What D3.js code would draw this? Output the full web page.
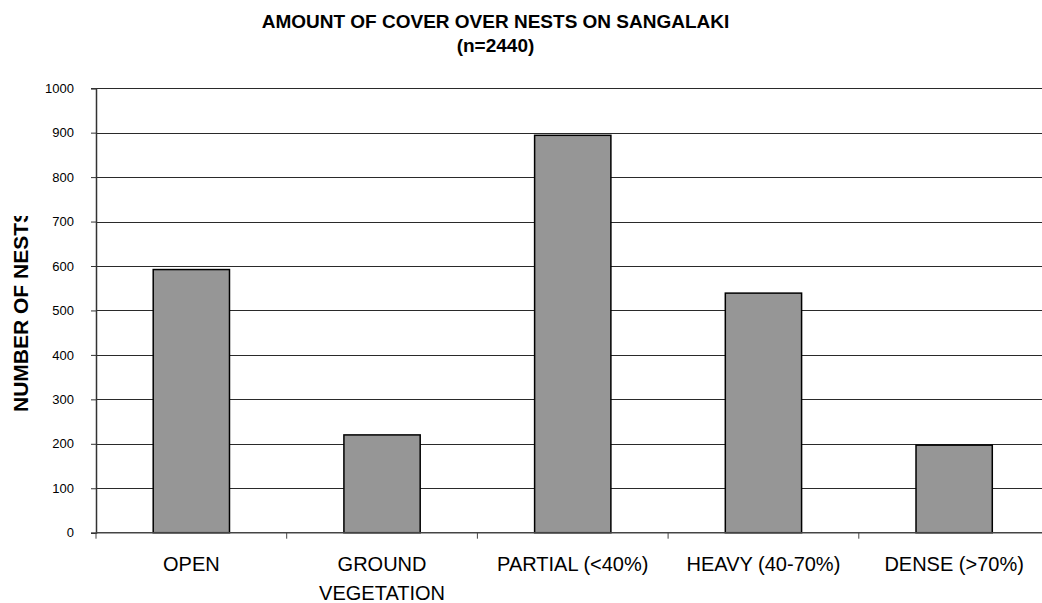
<!DOCTYPE html>
<html>
<head>
<meta charset="utf-8">
<script src="https://cdn.jsdelivr.net/npm/d3@7"></script>
<style>
  body { margin: 0; background: #fff; }
  svg { display: block; font-family: "Liberation Sans", Arial, sans-serif; }
</style>
</head>
<body>
<svg id="chart" width="1042" height="603"></svg>
<script>
// chart data
const categories = ["OPEN", "GROUND VEGETATION", "PARTIAL (<40%)", "HEAVY (40-70%)", "DENSE (>70%)"];
const categoryLines = [["OPEN"], ["GROUND", "VEGETATION"], ["PARTIAL (<40%)"], ["HEAVY (40-70%)"], ["DENSE (>70%)"]];
const nests = [592, 220, 894, 539, 197];
const yTicks = [0, 100, 200, 300, 400, 500, 600, 700, 800, 900, 1000];
const titleLines = ["AMOUNT OF COVER OVER NESTS ON SANGALAKI", "(n=2440)"];
const yLabel = "NUMBER OF NESTS";

const svg = d3.select("#chart");

// plot area (right side runs off the picture, like the original)
const plotLeft = 96, plotRight = 1049.5, plotTop = 88.2, plotBottom = 532.7;

const x = d3.scaleBand()
  .domain(categories)
  .range([plotLeft, plotRight])
  .paddingInner(0.6)
  .paddingOuter(0.3);

const y = d3.scaleLinear()
  .domain([0, 1000])
  .range([plotBottom, plotTop]);

// gridlines
svg.append("g")
  .selectAll("line")
  .data(yTicks.filter(d => d > 0))
  .join("line")
  .attr("x1", plotLeft).attr("x2", 1042)
  .attr("y1", d => Math.round(y(d)) + 0.5)
  .attr("y2", d => Math.round(y(d)) + 0.5)
  .attr("stroke", "#2a2a2a")
  .attr("stroke-width", 1);

// bars
svg.append("g")
  .selectAll("rect")
  .data(nests)
  .join("rect")
  .attr("x", (d, i) => x(categories[i]))
  .attr("y", d => y(d))
  .attr("width", x.bandwidth())
  .attr("height", d => y(0) - y(d))
  .attr("fill", "#969696")
  .attr("stroke", "#000")
  .attr("stroke-width", 1.5);

// y axis
const yAxis = svg.append("g")
  .attr("transform", `translate(${plotLeft},0)`)
  .call(d3.axisLeft(y).tickValues(yTicks).tickFormat(d3.format("d")).tickSize(5).tickPadding(17));
yAxis.select(".domain").attr("stroke", "#333").attr("stroke-width", 1.5);
yAxis.selectAll(".tick line").attr("stroke", "#333");
yAxis.selectAll(".tick text")
  .attr("fill", "#000")
  .style("font-family", "Liberation Sans, Arial, sans-serif")
  .style("font-size", "13px");

// x axis: ticks sit between the categories
const step = x.step();
const boundaries = d3.range(categories.length + 1).map(i => plotLeft + i * step);
svg.append("line")
  .attr("x1", plotLeft).attr("x2", 1042)
  .attr("y1", plotBottom).attr("y2", plotBottom)
  .attr("stroke", "#444").attr("stroke-width", 1.5);
svg.append("g")
  .selectAll("line")
  .data(boundaries.filter(b => b < 1042))
  .join("line")
  .attr("x1", d => d).attr("x2", d => d)
  .attr("y1", plotBottom).attr("y2", plotBottom + 6)
  .attr("stroke", "#444");

svg.append("g")
  .selectAll("text")
  .data(categories)
  .join("text")
  .attr("x", d => x(d) + x.bandwidth() / 2)
  .attr("y", 571)
  .attr("text-anchor", "middle")
  .style("font-size", "20px")
  .selectAll("tspan")
  .data((d, i) => categoryLines[i])
  .join("tspan")
  .attr("x", function () { return d3.select(this.parentNode).attr("x"); })
  .attr("dy", (d, i) => i === 0 ? 0 : 29)
  .text(d => d);

// title
svg.append("text")
  .attr("x", 495.5)
  .attr("text-anchor", "middle")
  .style("font-size", "19px")
  .style("font-weight", "bold")
  .selectAll("tspan")
  .data(titleLines)
  .join("tspan")
  .attr("x", 495.5)
  .attr("y", (d, i) => i === 0 ? 28 : 52)
  .text(d => d);

// y label, clipped at the top like in the original
svg.append("clipPath").attr("id", "ylabel-clip")
  .append("rect").attr("x", 0).attr("y", 216).attr("width", 60).attr("height", 400);
svg.append("g")
  .attr("clip-path", "url(#ylabel-clip)")
  .append("text")
  .attr("transform", "translate(28,412) rotate(-90)")
  .attr("text-anchor", "start")
  .style("font-size", "21px")
  .style("font-weight", "bold")
  .text(yLabel);
</script>
</body>
</html>
